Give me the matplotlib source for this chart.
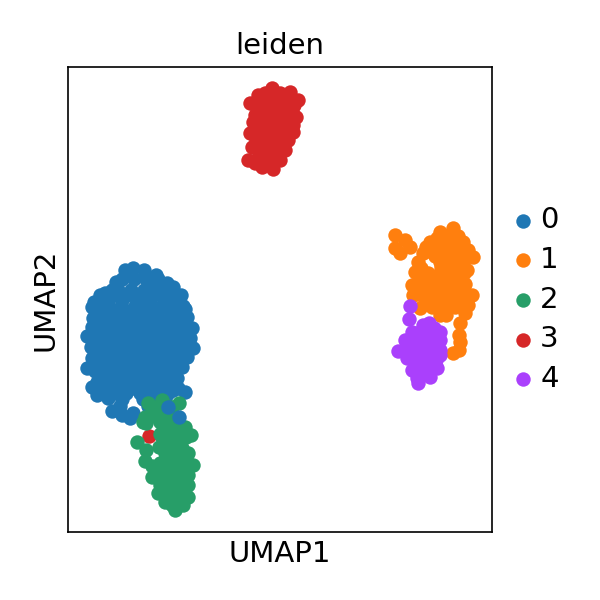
import matplotlib
matplotlib.use("Agg")
import matplotlib.pyplot as plt

LABELS = ["0", "1", "2", "3", "4"]
COLORS = ["#1f77b4", "#ff7f0e", "#279e68", "#d62728", "#aa40fc"]

# cluster 0
x0 = [125, 133, 144, 156, 116, 167, 173, 178, 105, 94, 92, 185, 187, 93, 192, 87, 190, 193, 91,
      187, 92, 87, 182, 177, 92, 97, 185, 108, 112, 122, 133, 173, 130,
      118, 131, 144, 158, 108, 122, 137, 150, 164, 172, 102, 115, 129, 143, 156, 170, 178,
      98, 110, 124, 137, 151, 165, 180, 97, 106, 120, 133, 147, 160, 174, 184,
      101, 114, 128, 141, 155, 168, 180, 99, 108, 122, 136, 150, 163, 176,
      97, 112, 126, 139, 153, 167, 174, 100, 116, 130, 144, 157, 170,
      104, 120, 134, 147, 161, 178, 122, 143, 152, 165,
      122, 134, 146, 158, 100, 114, 127, 140, 153, 167, 181,
      96, 108, 121, 135, 148, 162, 177, 183, 100, 106, 118, 131, 145, 158, 173,
      92, 104, 116, 130, 143, 156, 170, 186, 94, 110, 124, 138, 151, 165, 178,
      97, 108, 120, 134, 147, 160, 173, 186, 103, 116, 129, 143, 156, 170, 180,
      95, 106, 120, 133, 147, 160, 172, 97, 108, 123, 137, 150, 164, 175,
      113, 126, 140, 154, 168, 120, 148, 158, 150, 112]
y0 = [270, 268, 270, 275, 282, 283, 287, 299, 293, 302, 307, 309, 317, 318, 328, 336, 338, 348, 347,
      357, 358, 368, 367, 378, 387, 395, 392, 398, 411, 415, 413, 390, 418,
      290, 290, 290, 290, 300, 300, 300, 300, 300, 300, 311, 311, 311, 311, 311, 311, 311,
      322, 322, 322, 322, 322, 322, 322, 333, 333, 333, 333, 333, 333, 333, 333,
      344, 344, 344, 344, 344, 344, 344, 355, 355, 355, 355, 355, 355, 355,
      366, 366, 366, 366, 366, 366, 366, 377, 377, 377, 377, 377, 377,
      388, 388, 388, 388, 388, 388, 399, 399, 399, 399,
      279, 279, 279, 279, 295, 295, 295, 295, 295, 295, 295,
      306, 306, 306, 306, 306, 306, 306, 306, 317, 317, 317, 317, 317, 317, 317,
      327, 327, 327, 327, 327, 327, 327, 327, 338, 338, 338, 338, 338, 338, 338,
      349, 349, 349, 349, 349, 349, 349, 349, 360, 360, 360, 360, 360, 360, 360,
      371, 371, 371, 371, 371, 371, 371, 382, 382, 382, 382, 382, 382, 382,
      393, 393, 393, 393, 393, 406, 406, 404, 283, 290]
# cluster 0 cells lying over cluster 2
x0_top = [179, 168]
y0_top = [417, 407]

# cluster 1
x1 = [395, 395, 400, 410, 405, 453, 440, 430, 463, 468, 473, 423, 467, 415, 412, 413, 472, 468,
      465, 420, 440, 460, 459, 460, 459, 453, 446,
      440, 452, 435, 447, 458, 421, 441, 450, 460, 422, 434, 446, 458,
      424, 436, 448, 460, 425, 437, 449, 460, 432, 444, 455,
      447, 458, 430, 441, 453, 463, 440, 452, 463, 428, 440, 452, 464,
      418, 428, 440, 452, 465, 418, 430, 442, 454, 466, 428, 440, 452, 462,
      418, 426, 437]
y1 = [235, 248, 253, 247, 240, 228, 232, 242, 242, 250, 257, 253, 270, 272, 285, 295, 295, 305,
      313, 308, 315, 323, 335, 342, 350, 353, 315,
      245, 245, 256, 256, 256, 268, 267, 267, 267, 278, 278, 278, 278,
      289, 289, 289, 289, 299, 299, 299, 299, 307, 307, 307,
      236, 236, 251, 251, 251, 251, 262, 262, 262, 273, 273, 273, 273,
      284, 284, 284, 284, 284, 294, 294, 294, 294, 294, 304, 304, 304, 304,
      262, 247, 238]

# cluster 2
x2 = [162, 179, 148, 143, 137, 145, 152, 158, 165, 175, 183, 188, 188, 193, 188, 191, 180,
      152, 164, 160, 172, 160, 180, 165, 176, 165, 177, 160, 170, 182, 160, 172, 184,
      165, 177, 166, 178, 172, 180,
      156, 172, 145, 157, 168, 146, 165, 176, 185, 170, 162, 186, 170, 182, 172, 186,
      152, 165, 178, 188, 158, 170, 180, 188, 160, 172, 183, 164, 175, 185, 172,
      146, 159]
y2 = [400, 403, 403, 422, 442, 461, 477, 493, 502, 510, 505, 497, 485, 465, 453, 435, 440,
      412, 412, 422, 422, 434, 432, 444, 444, 453, 453, 463, 461, 461, 470, 470, 470,
      480, 480, 490, 490, 500, 500,
      407, 407, 417, 417, 417, 423, 427, 427, 427, 437, 437, 437, 448, 448, 458, 458,
      466, 466, 466, 466, 475, 475, 475, 475, 485, 485, 485, 495, 495, 495, 505,
      450, 447]

# cluster 3
x3 = [272, 290, 298, 296, 293, 250, 258, 253, 250, 252, 248, 262, 273, 285, 280,
      262, 275, 287, 258, 270, 282, 292, 262, 275, 287, 258, 270, 282,
      256, 268, 280, 288, 260, 272, 258, 268,
      265, 280, 255, 268, 281, 294, 255, 265, 278, 290, 256, 268, 280, 293,
      264, 276, 287, 264, 276, 266, 277, 255, 268]
y3 = [88, 92, 100, 117, 132, 103, 95, 122, 133, 147, 160, 167, 169, 150, 160,
      100, 100, 100, 110, 110, 110, 110, 120, 120, 120, 130, 130, 130,
      140, 140, 140, 140, 150, 150, 158, 158,
      93, 93, 105, 105, 105, 105, 115, 115, 115, 115, 125, 125, 125, 125,
      135, 135, 135, 145, 145, 155, 155, 163, 163]
# single cluster 3 cell inside cluster 2
x3_stray = [149]
y3_stray = [436]

# cluster 4
x4 = [410, 409, 429, 423, 412, 405, 398, 440, 440, 440, 437, 430, 418, 417, 407, 412,
      420, 432, 415, 427, 437, 418, 430, 420, 431, 424,
      421, 434, 412, 424, 436, 408, 420, 432, 440, 414, 425, 436, 418, 428, 420]
y4 = [306, 319, 323, 325, 332, 340, 351, 332, 340, 355, 368, 377, 383, 378, 358, 370,
      335, 335, 345, 345, 345, 355, 355, 365, 365, 372,
      331, 328, 340, 340, 340, 350, 350, 350, 350, 360, 360, 360, 370, 370, 375]

DOT = 48
fig = plt.figure(figsize=(4, 4), dpi=150)
ax = fig.add_axes([68 / 600, 68 / 600, 424 / 600, 465 / 600])

ax.scatter(x0, y0, s=DOT, color=COLORS[0], linewidths=0, zorder=2)
ax.scatter(x1, y1, s=DOT, color=COLORS[1], linewidths=0, zorder=2)
ax.scatter(x3_stray, y3_stray, s=DOT, color=COLORS[3], linewidths=0, zorder=2)
ax.scatter(x2, y2, s=DOT, color=COLORS[2], linewidths=0, zorder=2)
ax.scatter(x0_top, y0_top, s=DOT, color=COLORS[0], linewidths=0, zorder=2)
ax.scatter(x3, y3, s=DOT, color=COLORS[3], linewidths=0, zorder=2)
ax.scatter(x4, y4, s=DOT, color=COLORS[4], linewidths=0, zorder=2)

for lab, col in zip(LABELS, COLORS):
    ax.scatter([], [], s=DOT, color=col, linewidths=0, label=lab)

ax.set_xlim(68, 492)
ax.set_ylim(532, 67)
ax.set_xticks([])
ax.set_yticks([])
ax.set_title("leiden", fontsize=14)
ax.set_xlabel("UMAP1", fontsize=14)
ax.set_ylabel("UMAP2", fontsize=14)
ax.legend(loc="center left", bbox_to_anchor=(1, 0.5), frameon=False, fontsize=14,
          scatterpoints=1, labelspacing=0.4, handlelength=0.35, handletextpad=0.4)

fig.savefig("out.png", dpi=150)
